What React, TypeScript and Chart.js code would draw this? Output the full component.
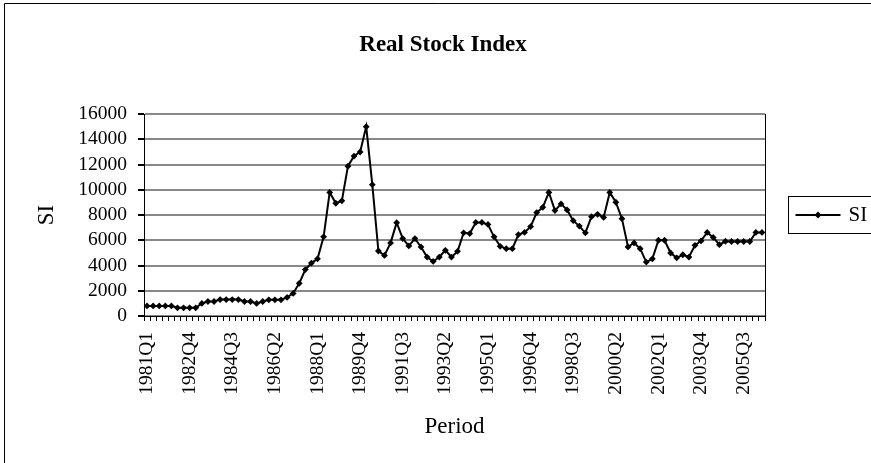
import React, { useEffect, useRef } from "react";
import { Chart, registerables } from "chart.js";

Chart.register(...registerables);

const TITLE = "Real Stock Index";
const X_TITLE = "Period";
const Y_TITLE = "SI";
const SERIES_NAME = "SI";

const START_YEAR = 1981;
const N_QUARTERS = 102;
const quarterLabels: string[] = [];
for (let i = 0; i < N_QUARTERS; i++) {
  quarterLabels.push(`${START_YEAR + Math.floor(i / 4)}Q${(i % 4) + 1}`);
}

const siValues: number[] = [
  800, 800, 800, 800, 800, 650, 650, 650, 650, 1000,
  1150, 1150, 1300, 1300, 1300, 1300, 1150, 1150, 1000, 1150,
  1280, 1280, 1280, 1470, 1790, 2590, 3680, 4190, 4530, 6270,
  9790, 8930, 9120, 11870, 12670, 12990, 15000, 10400, 5150, 4800,
  5790, 7390, 6130, 5550, 6130, 5470, 4670, 4320, 4670, 5200,
  4670, 5120, 6590, 6530, 7410, 7410, 7250, 6270, 5520, 5330,
  5330, 6450, 6620, 7080, 8190, 8610, 9790, 8350, 8880, 8400,
  7550, 7120, 6590, 7870, 8050, 7810, 9790, 9010, 7710, 5470,
  5790, 5330, 4270, 4530, 6000, 6000, 4990, 4610, 4850, 4670,
  5600, 5950, 6620, 6220, 5650, 5920, 5900, 5900, 5900, 5900,
  6620, 6620,
];

const Y_MIN = 0;
const Y_MAX = 16000;
const Y_STEP = 2000;
const LABEL_EVERY = 7;

const FONT = '"Liberation Serif", "Times New Roman", serif';

const decorPlugin = {
  id: "decor",
  beforeDraw(chart: any) {
    const { ctx } = chart;
    ctx.save();
    ctx.fillStyle = "#fff";
    ctx.fillRect(0, 0, chart.width, chart.height);
    ctx.strokeStyle = "#000";
    ctx.lineWidth = 1;
    ctx.beginPath();
    ctx.moveTo(4.5, chart.height + 5);
    ctx.lineTo(4.5, 3.5);
    ctx.lineTo(chart.width + 5, 3.5);
    ctx.stroke();
    ctx.restore();
  },
  afterDraw(chart: any) {
    const { ctx, chartArea } = chart;
    ctx.save();
    // plot area right edge
    const rx = Math.round(chartArea.right) + 0.5;
    ctx.strokeStyle = "#000";
    ctx.lineWidth = 1;
    ctx.beginPath();
    ctx.moveTo(rx, chartArea.top);
    ctx.lineTo(rx, chartArea.bottom);
    ctx.stroke();

    // title (centred on the whole chart object, which runs past the right edge)
    ctx.fillStyle = "#000";
    ctx.font = `bold 23px ${FONT}`;
    ctx.textAlign = "center";
    ctx.textBaseline = "middle";
    ctx.fillText(TITLE, 443, 45);

    // legend
    const lx = 788.5;
    const ly = 196.5;
    const lh = 37;
    ctx.strokeStyle = "#000";
    ctx.lineWidth = 1;
    ctx.strokeRect(lx, ly, 200, lh);
    const cy = ly + lh / 2;
    ctx.lineWidth = 2;
    ctx.beginPath();
    ctx.moveTo(lx + 7, cy);
    ctx.lineTo(lx + 52, cy);
    ctx.stroke();
    const mx = lx + 29.5;
    ctx.beginPath();
    ctx.moveTo(mx, cy - 3.5);
    ctx.lineTo(mx + 3.5, cy);
    ctx.lineTo(mx, cy + 3.5);
    ctx.lineTo(mx - 3.5, cy);
    ctx.closePath();
    ctx.fillStyle = "#000";
    ctx.fill();
    ctx.font = `21px ${FONT}`;
    ctx.textAlign = "left";
    ctx.textBaseline = "middle";
    ctx.fillText(SERIES_NAME, lx + 60, cy);
    ctx.restore();
  },
};

export default function App() {
  const ref = useRef<HTMLCanvasElement | null>(null);

  useEffect(() => {
    if (!ref.current) return;
    const chart = new Chart(ref.current, {
      type: "line",
      data: {
        labels: quarterLabels,
        datasets: [
          {
            label: SERIES_NAME,
            data: siValues,
            borderColor: "#000",
            backgroundColor: "#000",
            borderWidth: 2,
            pointStyle: "rectRot",
            pointRadius: 3.4,
            pointBorderWidth: 0,
            pointBackgroundColor: "#000",
            tension: 0,
          },
        ],
      },
      options: {
        animation: false,
        responsive: false,
        maintainAspectRatio: false,
        devicePixelRatio: 1,
        layout: { padding: { left: 0, right: 106, top: 114, bottom: 0 } },
        plugins: {
          legend: { display: false },
          title: { display: false },
          tooltip: { enabled: false },
        },
        scales: {
          x: {
            type: "category",
            offset: true,
            grid: {
              display: true,
              drawOnChartArea: false,
              drawTicks: true,
              tickLength: 5,
              offset: true,
              color: "#000",
              tickColor: "#000",
            },
            border: { display: true, color: "#000", width: 1 },
            ticks: {
              autoSkip: false,
              maxRotation: 90,
              minRotation: 90,
              padding: 11,
              color: "#000",
              font: { family: FONT, size: 19.5 },
              callback: (_v: any, i: number) =>
                i % LABEL_EVERY === 0 ? quarterLabels[i] : "",
            },
            title: {
              display: true,
              text: X_TITLE,
              color: "#000",
              font: { family: FONT, size: 23 },
              padding: { top: 0, bottom: 22 },
            },
            afterFit: (s: any) => {
              s.height = 147;
            },
          },
          y: {
            min: Y_MIN,
            max: Y_MAX,
            grid: {
              color: "#888",
              lineWidth: 2,
              tickColor: "#000",
              tickLength: 6,
              drawTicks: true,
            },
            border: { display: true, color: "#000", width: 1 },
            ticks: {
              stepSize: Y_STEP,
              autoSkip: false,
              padding: 11,
              color: "#000",
              font: { family: FONT, size: 19.5 },
              callback: (v: any) => String(v),
            },
            title: {
              display: true,
              text: Y_TITLE,
              color: "#000",
              font: { family: FONT, size: 23 },
              padding: { top: 33, bottom: 0 },
            },
            afterFit: (s: any) => {
              s.width = 144;
            },
          },
        },
      },
      plugins: [decorPlugin],
    });
    return () => chart.destroy();
  }, []);

  return (
    <div
      style={{
        position: "fixed",
        left: 0,
        top: 0,
        width: 871,
        height: 463,
        overflow: "hidden",
        background: "#fff",
      }}
    >
      <canvas ref={ref} width={871} height={463} style={{ display: "block" }} />
    </div>
  );
}
